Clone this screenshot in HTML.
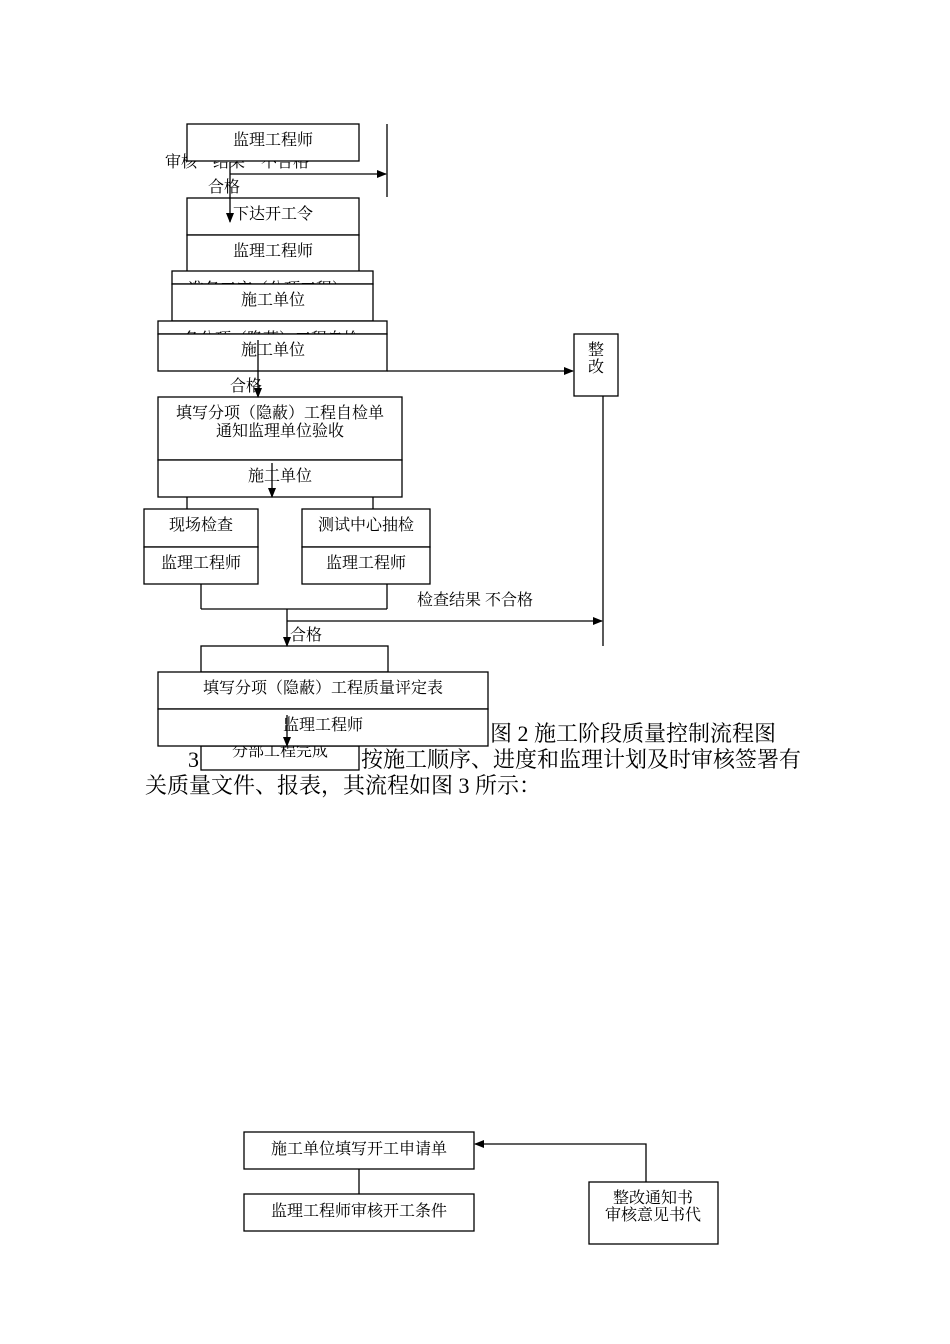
<!DOCTYPE html>
<html><head><meta charset="utf-8">
<style>
html,body{margin:0;padding:0;background:#fff;}
svg{display:block;}
text{font-family:"Liberation Serif","Noto Serif CJK SC","Noto Sans CJK SC",serif;fill:#000;}
.b{font-size:16px;}
.p{font-size:22px;}
rect{stroke:#000;stroke-width:1.3;fill:#fff;}
</style></head>
<body>
<svg width="950" height="1344" viewBox="0 0 950 1344" xmlns="http://www.w3.org/2000/svg">
<defs>
<marker id="ar" markerWidth="10" markerHeight="10" refX="9" refY="5" orient="auto" markerUnits="userSpaceOnUse">
<path d="M0,1 L10,5 L0,9 Z" fill="#000"/>
</marker>
</defs>
<text class="b" x="165" y="167">审核　结果　不合格</text>
<rect x="187" y="124" width="172" height="37"/>
<rect x="187" y="198" width="172" height="37"/>
<rect x="187" y="235" width="172" height="37"/>
<rect x="172" y="271" width="201" height="13"/>
<text class="b" x="188" y="294">准备工序（分项工程）</text>
<rect x="172" y="284" width="201" height="37"/>
<rect x="158" y="321" width="229" height="13"/>
<text class="b" x="183" y="344">各分项（隐蔽）工程自检</text>
<rect x="158" y="334" width="229" height="37"/>
<rect x="574" y="334" width="44" height="62"/>
<rect x="158" y="397" width="244" height="63"/>
<rect x="158" y="460" width="244" height="37"/>
<rect x="144" y="509" width="114" height="38"/>
<rect x="144" y="547" width="114" height="37"/>
<rect x="302" y="509" width="128" height="38"/>
<rect x="302" y="547" width="128" height="37"/>
<rect x="201" y="646" width="187" height="26"/>
<rect x="201" y="746" width="158" height="24"/>
<text class="b" x="232" y="756">分部工程完成</text>
<rect x="158" y="672" width="330" height="37"/>
<rect x="158" y="709" width="330" height="37"/>
<rect x="244" y="1132" width="230" height="37"/>
<rect x="244" y="1194" width="230" height="37"/>
<rect x="589" y="1182" width="129" height="62"/>
<g stroke="#000" stroke-width="1.3" fill="none">
<line x1="387" y1="124" x2="387" y2="197"/>
<line x1="230" y1="174" x2="386" y2="174" marker-end="url(#ar)"/>
<line x1="230" y1="162" x2="230" y2="222" marker-end="url(#ar)"/>
<line x1="387" y1="371" x2="573" y2="371" marker-end="url(#ar)"/>
<line x1="603" y1="396" x2="603" y2="646"/>
<line x1="258" y1="340" x2="258" y2="397" marker-end="url(#ar)"/>
<line x1="272" y1="463" x2="272" y2="497" marker-end="url(#ar)"/>
<line x1="187" y1="497" x2="187" y2="509"/>
<line x1="373" y1="497" x2="373" y2="509"/>
<line x1="201" y1="584" x2="201" y2="609"/>
<line x1="387" y1="584" x2="387" y2="609"/>
<line x1="201" y1="609" x2="387" y2="609"/>
<line x1="287" y1="609" x2="287" y2="646" marker-end="url(#ar)"/>
<line x1="287" y1="621" x2="602" y2="621" marker-end="url(#ar)"/>
<line x1="287" y1="715" x2="287" y2="746" marker-end="url(#ar)"/>
<line x1="359" y1="1169" x2="359" y2="1194"/>
<polyline points="646,1182 646,1144 475,1144" marker-end="url(#ar)"/>
</g>
<text class="b" x="273" y="145" text-anchor="middle">监理工程师</text>
<text class="b" x="208" y="192">合格</text>
<text class="b" x="273" y="219" text-anchor="middle">下达开工令</text>
<text class="b" x="273" y="256" text-anchor="middle">监理工程师</text>
<text class="b" x="273" y="305" text-anchor="middle">施工单位</text>
<text class="b" x="273" y="355" text-anchor="middle">施工单位</text>
<text class="b" x="596" y="355" text-anchor="middle">整</text>
<text class="b" x="596" y="372" text-anchor="middle">改</text>
<text class="b" x="230" y="391">合格</text>
<text class="b" x="280" y="418" text-anchor="middle">填写分项（隐蔽）工程自检单</text>
<text class="b" x="280" y="436" text-anchor="middle">通知监理单位验收</text>
<text class="b" x="280" y="481" text-anchor="middle">施工单位</text>
<text class="b" x="201" y="530" text-anchor="middle">现场检查</text>
<text class="b" x="201" y="568" text-anchor="middle">监理工程师</text>
<text class="b" x="366" y="530" text-anchor="middle">测试中心抽检</text>
<text class="b" x="366" y="568" text-anchor="middle">监理工程师</text>
<text class="b" x="417" y="605">检查结果  不合格</text>
<text class="b" x="290" y="640">合格</text>
<text class="b" x="323" y="693" text-anchor="middle">填写分项（隐蔽）工程质量评定表</text>
<text class="b" x="323" y="730" text-anchor="middle">监理工程师</text>
<text class="p" x="490" y="741">图 2 施工阶段质量控制流程图</text>
<text class="p" x="188" y="767">3</text>
<text class="p" x="361" y="767">按施工顺序、进度和监理计划及时审核签署有</text>
<text class="p" x="145" y="793">关质量文件、报表，其流程如图 3 所示：</text>
<text class="b" x="359" y="1154" text-anchor="middle">施工单位填写开工申请单</text>
<text class="b" x="359" y="1216" text-anchor="middle">监理工程师审核开工条件</text>
<text class="b" x="653" y="1203" text-anchor="middle">整改通知书</text>
<text class="b" x="653" y="1220" text-anchor="middle">审核意见书代</text>
</svg>
</body></html>
